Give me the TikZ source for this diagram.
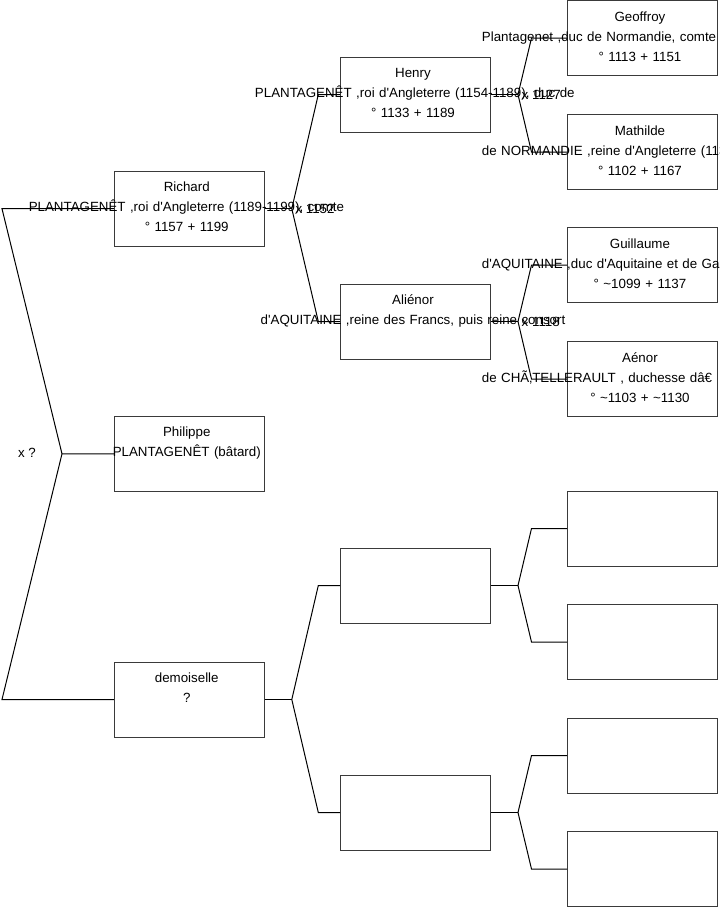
\documentclass[tikz,border=0pt]{standalone}
\usepackage{fontspec}
\setmainfont{Liberation Sans}[Ligatures=TeXOff]
\usepackage{tikz}
\usetikzlibrary{positioning,calc}
\definecolor{boxc}{HTML}{3A3A3A}
\newcommand{\spill}[1]{\makebox[\linewidth][l]{#1}}

\tikzset{
  person/.style={draw=boxc, line width=0.75pt, minimum width=112.5pt, minimum height=56.25pt, inner sep=0pt},
  who/.style={anchor=base, inner sep=0pt, text width=237pt, align=center, yshift=-15.75pt, xshift=-1.9pt},
  link/.style={line width=0.75pt},
  wed/.style={anchor=west, inner sep=0pt, xshift=2.6pt},
}

\begin{document}
\begin{tikzpicture}[x=0.75pt, y=-0.75pt, font=\fontsize{10}{15}\selectfont]
  \useasboundingbox (0,0) rectangle (719,908);
  % boxes
  \node[person] (richard) at (189.3,208.7) {};
  \node[person] (philippe) at (189.3,453.8) {};
  \node[person] (demoiselle) at (189.3,699.5) {};
  \node[person] (henry) at (415.5,94.5) {};
  \node[person] (alienor) at (415.5,321.5) {};
  \node[person] (blankA) at (415.5,585.5) {};
  \node[person] (blankB) at (415.5,812.5) {};
  \node[person] (geoffroy) at (642.5,38) {};
  \node[person] (mathilde) at (642.5,152) {};
  \node[person] (guillaume) at (642.5,265) {};
  \node[person] (aenor) at (642.5,379) {};
  \foreach \n/\y in {C/528.5,D/642,E/755.5,F/869}
     \node[person] (blank\n) at (642.5,\y) {};

  % root
  \coordinate (root) at (62,453.8);
  \coordinate (root-up) at (2,208.7);
  \coordinate (root-down) at (2,699.5);
  \draw[link] (philippe.west) -- (root) -- (root-up) -- (richard.west);
  \draw[link] (root) -- (root-down) -- (demoiselle.west);
  \node (x-root) at (27,453) {x ?};

  % forks
  \foreach \p/\a/\b/\d in {richard/henry/alienor/26.5, demoiselle/blankA/blankB/26.5,
      henry/geoffroy/mathilde/13.5, alienor/guillaume/aenor/13.5,
      blankA/blankC/blankD/13.5, blankB/blankE/blankF/13.5}{
     \draw[link] (\p.east) -- ++(27,0) coordinate (\p-fork);
     \draw[link] (\p-fork) -- ($(\p-fork |- \a.west)+(\d,0)$) -- (\a.west);
     \draw[link] (\p-fork) -- ($(\p-fork |- \b.west)+(\d,0)$) -- (\b.west);}

  % texts
  \node[who] (richard-t) at (richard.north) {Richard\\\spill{PLANTAGENÊT ,roi d'Angleterre (1189-1199), comte}\\° 1157 + 1199};
  \node[who] (philippe-t) at (philippe.north) {Philippe\\PLANTAGENÊT (bâtard)};
  \node[who] (demoiselle-t) at (demoiselle.north) {demoiselle\\?};
  \node[who] (henry-t) at (henry.north) {Henry\\\spill{PLANTAGENÊT ,roi d'Angleterre (1154-1189), duc de}\\° 1133 + 1189};
  \node[who] (alienor-t) at (alienor.north) {Aliénor\\d'AQUITAINE ,reine des Francs, puis reine consort};
  \node[who] (geoffroy-t) at (geoffroy.north) {Geoffroy\\\spill{Plantagenet ,duc de Normandie, comte d}\\° 1113 + 1151};
  \node[who] (mathilde-t) at (mathilde.north) {Mathilde\\\spill{de NORMANDIE ,reine d'Angleterre (113}\\° 1102 + 1167};
  \node[who] (guillaume-t) at (guillaume.north) {Guillaume\\\spill{d'AQUITAINE ,duc d'Aquitaine et de Gas}\\° \textasciitilde1099 + 1137};
  \node[who] (aenor-t) at (aenor.north) {Aénor\\\spill{de CHÃ‚TELLERAULT , duchesse dâ€}\\° \textasciitilde1103 + \textasciitilde1130};

  % marriages
  \node[wed] (richard-x) at (richard-fork) {x 1152};
  \node[wed] (henry-x) at (henry-fork) {x 1127};
  \node[wed] (alienor-x) at (alienor-fork) {x 1118};
\end{tikzpicture}
\end{document}
